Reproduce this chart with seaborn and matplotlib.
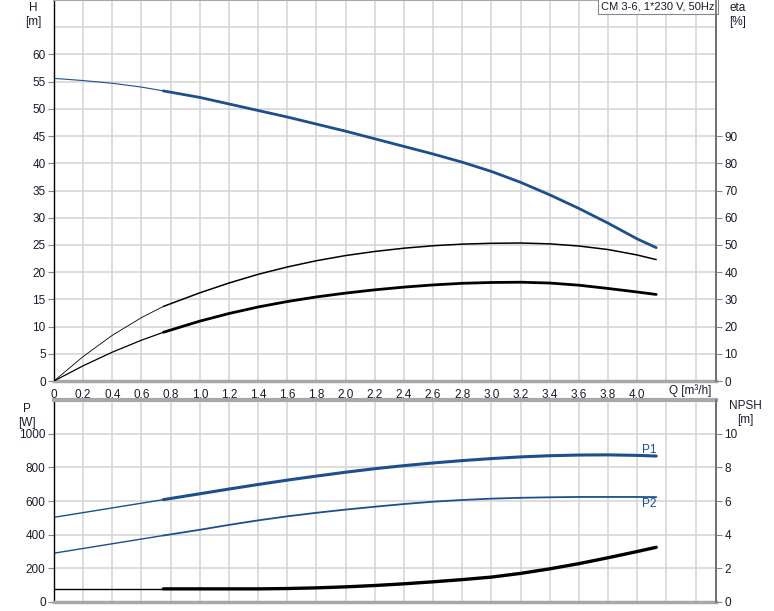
import matplotlib
matplotlib.use('Agg')
from matplotlib import pyplot as plt
import numpy as np
import pandas as pd
import seaborn as sns

# flow points [m3/h]
q = [0, 0.2, 0.4, 0.6, 0.75, 1.0, 1.2, 1.4, 1.6, 1.8, 2.0, 2.2, 2.4, 2.6, 2.8,
     3.0, 3.2, 3.4, 3.6, 3.8, 4.0, 4.13]
# head [m]
head = [55.6, 55.2, 54.7, 54.0, 53.3, 52.1, 50.9, 49.7, 48.5, 47.2, 45.9, 44.5,
        43.1, 41.7, 40.2, 38.5, 36.5, 34.2, 31.7, 29.0, 26.1, 24.5]
# efficiencies [%]
eta_upper = [0, 9.0, 16.8, 23.3, 27.4, 32.4, 36.0, 39.2, 41.9, 44.2, 46.1, 47.6,
             48.8, 49.7, 50.3, 50.6, 50.7, 50.4, 49.6, 48.3, 46.3, 44.6]
eta_lower = [0, 5.6, 10.6, 15.0, 17.9, 22.0, 24.8, 27.2, 29.2, 30.9, 32.3, 33.5,
             34.5, 35.3, 35.9, 36.2, 36.3, 36.0, 35.2, 34.0, 32.7, 31.8]
# power [W]
p1 = [503, 531, 559, 587, 608, 643, 671, 698, 724, 748, 771, 792, 810, 826, 840,
      852, 862, 869, 873, 874, 871, 867]
p2 = [290, 318, 346, 374, 395, 429, 458, 485, 509, 530, 549, 566, 582, 596, 606,
      614, 619, 622, 624, 624, 624, 623]
# NPSH [m]
npsh = [0.78, 0.78, 0.78, 0.78, 0.78, 0.78, 0.78, 0.78, 0.80, 0.84, 0.90, 0.98,
        1.08, 1.20, 1.33, 1.48, 1.70, 1.97, 2.28, 2.63, 3.00, 3.25]

x_ticks = [0, 0.2, 0.4, 0.6, 0.8, 1.0, 1.2, 1.4, 1.6, 1.8, 2.0, 2.2, 2.4, 2.6,
           2.8, 3.0, 3.2, 3.4, 3.6, 3.8, 4.0]
title_text = "CM 3-6, 1*230 V, 50Hz"

df = pd.DataFrame({'Q': q, 'H': head, 'eta1': eta_upper, 'eta2': eta_lower,
                   'P1': p1, 'P2': p2, 'NPSH': npsh})
split = 0.75
thin = df[df['Q'] <= split]
thick = df[df['Q'] >= split]

sns.set_theme(style="white")
plt.rcParams['font.family'] = ['Liberation Sans', 'DejaVu Sans']
plt.rcParams['font.size'] = 8.5

blue = '#1c4f8c'
txt = '#1a1a2e'
grid_c = '#d3d3d3'
spine_gray = '#a8a8a8'

fig = plt.figure(figsize=(7.74, 6.11), dpi=100)
W, H = 774, 611
ax_top = fig.add_axes([54 / W, 1 - 381 / H, 662 / W, 381 / H])
ax_bot = fig.add_axes([54 / W, 1 - 602 / H, 662 / W, 202 / H])
ax_eta = ax_top.twinx()
ax_npsh = ax_bot.twinx()


def draw(ax, col, color, w_thin, w_thick):
    sns.lineplot(data=thin, x='Q', y=col, ax=ax, color=color, lw=w_thin, legend=False)
    sns.lineplot(data=thick, x='Q', y=col, ax=ax, color=color, lw=w_thick, legend=False)


draw(ax_top, 'H', blue, 0.8, 2.0)
draw(ax_eta, 'eta1', 'black', 0.6, 1.1)
draw(ax_eta, 'eta2', 'black', 0.9, 2.0)
draw(ax_bot, 'P1', blue, 1.0, 2.2)
draw(ax_bot, 'P2', blue, 1.0, 1.3)
draw(ax_npsh, 'NPSH', 'black', 1.0, 2.4)

for ax in (ax_top, ax_bot):
    ax.set_xlim(0, 4.54)
    ax.set_xticks(x_ticks)
    ax.set_xticks([4.2, 4.4], minor=True)
    ax.grid(True, which='both', color=grid_c, lw=1.1)
    ax.set_axisbelow(True)
    ax.set_xlabel('')
    ax.set_ylabel('')
    ax.tick_params(which='major', direction='out', length=4, width=0.8,
                   color='#888888', labelcolor=txt, labelsize=8.5, pad=2)
    ax.tick_params(which='minor', length=0)
    ax.spines['left'].set_color('black')
    ax.spines['left'].set_linewidth(1.0)
    ax.spines['bottom'].set_color(spine_gray)
    ax.spines['bottom'].set_linewidth(2.5)
    ax.spines['top'].set_color(spine_gray)
    ax.spines['top'].set_linewidth(1.5)
    ax.spines['right'].set_color('#707070')

ax_top.set_xticklabels(['0' if v == 0 else f'{v:.1f}' for v in x_ticks])
ax_bot.set_xticklabels([])
ax_bot.spines['top'].set_linewidth(3)

ax_top.set_ylim(0, 70)
ax_top.set_yticks(np.arange(0, 61, 5))
ax_top.set_yticks([65], minor=True)

ax_bot.set_ylim(0, 1200)
ax_bot.set_yticks(np.arange(0, 1001, 200))
ax_bot.set_yticks([1200], minor=True)

for ax, top, ticks in ((ax_eta, 140, np.arange(0, 91, 10)),
                       (ax_npsh, 12, np.arange(0, 11, 2))):
    ax.set_ylim(0, top)
    ax.set_yticks(ticks)
    ax.set_ylabel('')
    ax.tick_params(direction='out', length=4, width=0.8, color='#888888',
                   labelcolor=txt, labelsize=8.5, pad=2)
    for s in ax.spines.values():
        s.set_visible(False)
    ax.spines['right'].set_visible(True)
    ax.spines['right'].set_color('#707070')

# title box
ax_top.text(0.998, 0.997, title_text, transform=ax_top.transAxes, ha='right', va='top',
            fontsize=8, color=txt,
            bbox=dict(boxstyle='square,pad=0.3', fc='white', ec='#888888', lw=0.8))

# curve labels
ax_bot.text(4.08, 905, 'P1', color=blue, fontsize=8.5, ha='center', va='center')
ax_bot.text(4.08, 580, 'P2', color=blue, fontsize=8.5, ha='center', va='center')

# axis unit labels
fig.text(33 / W, 1 - 15 / H, 'H\n[m]', ha='center', va='center', fontsize=8.5,
         color=txt, linespacing=1.2)
fig.text(738 / W, 1 - 15 / H, 'eta\n[%]', ha='center', va='center', fontsize=8.5,
         color=txt, linespacing=1.2)
fig.text(27 / W, 1 - 416 / H, 'P\n[W]', ha='center', va='center', fontsize=8.5,
         color=txt, linespacing=1.15)
fig.text(745 / W, 1 - 413 / H, 'NPSH\n[m]', ha='center', va='center', fontsize=8.5,
         color=txt, linespacing=1.2)
fig.text(690 / W, 1 - 391 / H, 'Q [m³/h]', ha='center', va='center', fontsize=8.5,
         color=txt)

fig.savefig('out.png', dpi=100)
